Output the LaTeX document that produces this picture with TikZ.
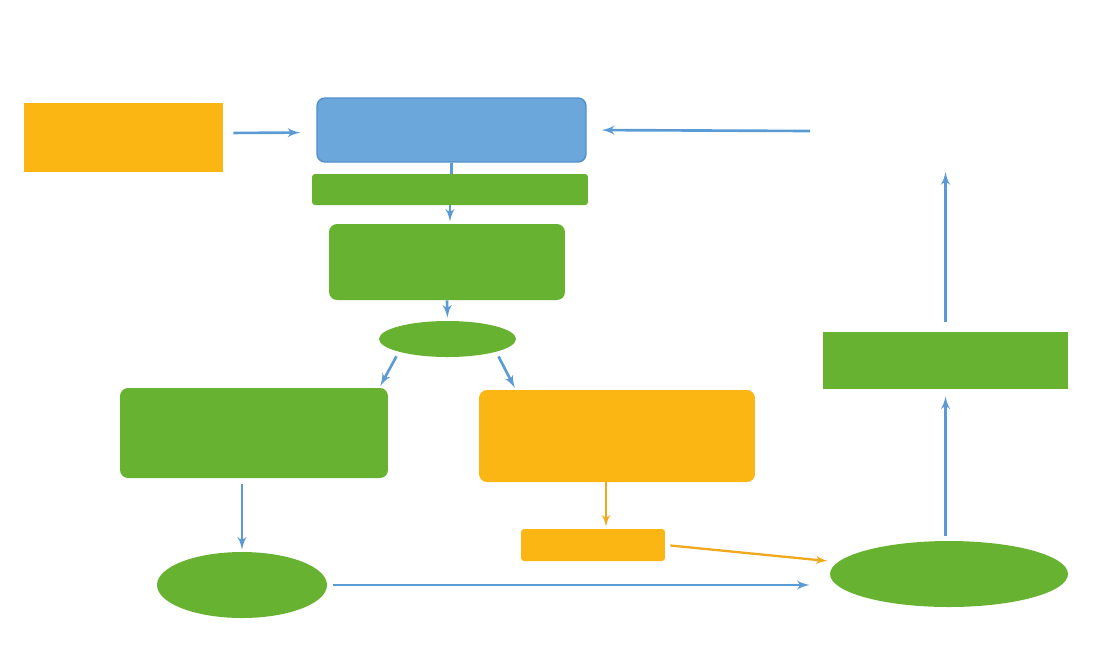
\documentclass[tikz,border=0pt]{standalone}
\usepackage{xcolor}
\usepackage{tikz}
\usetikzlibrary{shapes.geometric, arrows, arrows.meta, positioning, calc}

\definecolor{boxorange}{HTML}{FBB614}
\definecolor{boxgreen}{HTML}{68B232}
\definecolor{boxblue}{HTML}{6CA7DC}
\definecolor{edgeblue}{HTML}{4F8FCB}
\definecolor{arrowblue}{HTML}{5B9BD5}
\definecolor{arroworange}{HTML}{F2A81D}

\begin{document}
\begin{tikzpicture}[x=0.02cm, y=-0.02cm]
        \tikzstyle{block} = [rectangle, inner sep=0pt, draw=none]
        \tikzstyle{roundblock} = [block, rounded corners=0.16cm]
        \tikzstyle{oval} = [ellipse, inner sep=0pt, draw=none, fill=boxgreen]
        \tikzstyle{line} = [draw, -latex', line width=1.5pt, arrowblue]
        \tikzstyle{oline} = [draw, -latex', line width=1.3pt, arroworange]

        \useasboundingbox (0,0) rectangle (1095,647);

        \node [block, fill=boxorange, minimum width=3.98cm, minimum height=1.38cm] (source) at (123.5,137.5) {};
        \node [roundblock, fill=boxblue, draw=edgeblue, line width=0.8pt, minimum width=5.38cm, minimum height=1.28cm] (core) at (451.5,130) {};
        \node [block, fill=boxgreen, rounded corners=0.06cm, minimum width=5.52cm, minimum height=0.62cm] (bar) at (450,189.5) {};
        \node [roundblock, fill=boxgreen, minimum width=4.72cm, minimum height=1.52cm] (stage) at (447,262) {};
        \node [oval, minimum width=2.74cm, minimum height=0.72cm] (split) at (447.5,339) {};
        \node [roundblock, fill=boxgreen, minimum width=5.36cm, minimum height=1.8cm] (left) at (254,433) {};
        \node [roundblock, fill=boxorange, minimum width=5.52cm, minimum height=1.84cm] (right) at (617,436) {};
        \node [block, fill=boxorange, rounded corners=0.06cm, minimum width=2.88cm, minimum height=0.64cm] (small) at (593,545) {};
        \node [oval, minimum width=3.4cm, minimum height=1.32cm] (leftend) at (242,585) {};
        \node [oval, minimum width=4.76cm, minimum height=1.32cm] (merge) at (949,574) {};
        \node [block, fill=boxgreen, minimum width=4.9cm, minimum height=1.14cm] (result) at (945.5,360.5) {};

        \coordinate (feed) at (810,131);
        \coordinate (top) at (945.5,172);

        \path [line, shorten <=0.2cm, shorten >=0.32cm] ([yshift=0.09cm]source.east) -- ([yshift=-0.05cm]core.west);
        \path [line, shorten >=0.3cm] (feed) -- (core.east);
        \path [draw, line width=1.5pt, arrowblue] (core.south) -- (core.south |- bar.north);
        \path [line, shorten >=0.04cm] (bar.south) -- (bar.south |- stage.north);
        \path [line, shorten >=0.06cm] (stage.south) -- (split.north);
        \path [line, shorten <=0.1cm, shorten >=0.04cm] (split.south west) -- ([xshift=-0.18cm]left.north east);
        \path [line, shorten <=0.1cm, shorten >=0.04cm] (split.south east) -- ([xshift=0.74cm]right.north west);
        \path [line, shorten <=0.12cm, shorten >=0.04cm] (left.south -| leftend.north) -- (leftend.north);
        \path [oline, shorten >=0.04cm] ([xshift=0.26cm]small.north |- right.south) -- ([xshift=0.26cm]small.north);
        \path [oline, shorten <=0.1cm] (small.east) -- ($(merge.west)+(-2,-13)$);
        \path [line, shorten <=0.12cm, shorten >=0.4cm] (leftend.east) -- (leftend.east -| merge.west);
        \path [line, shorten <=0.1cm, shorten >=0.14cm] (merge.north -| result.south) -- (result.south);
        \path [line, shorten <=0.2cm] (result.north) -- (top);
    \end{tikzpicture}
\end{document}
